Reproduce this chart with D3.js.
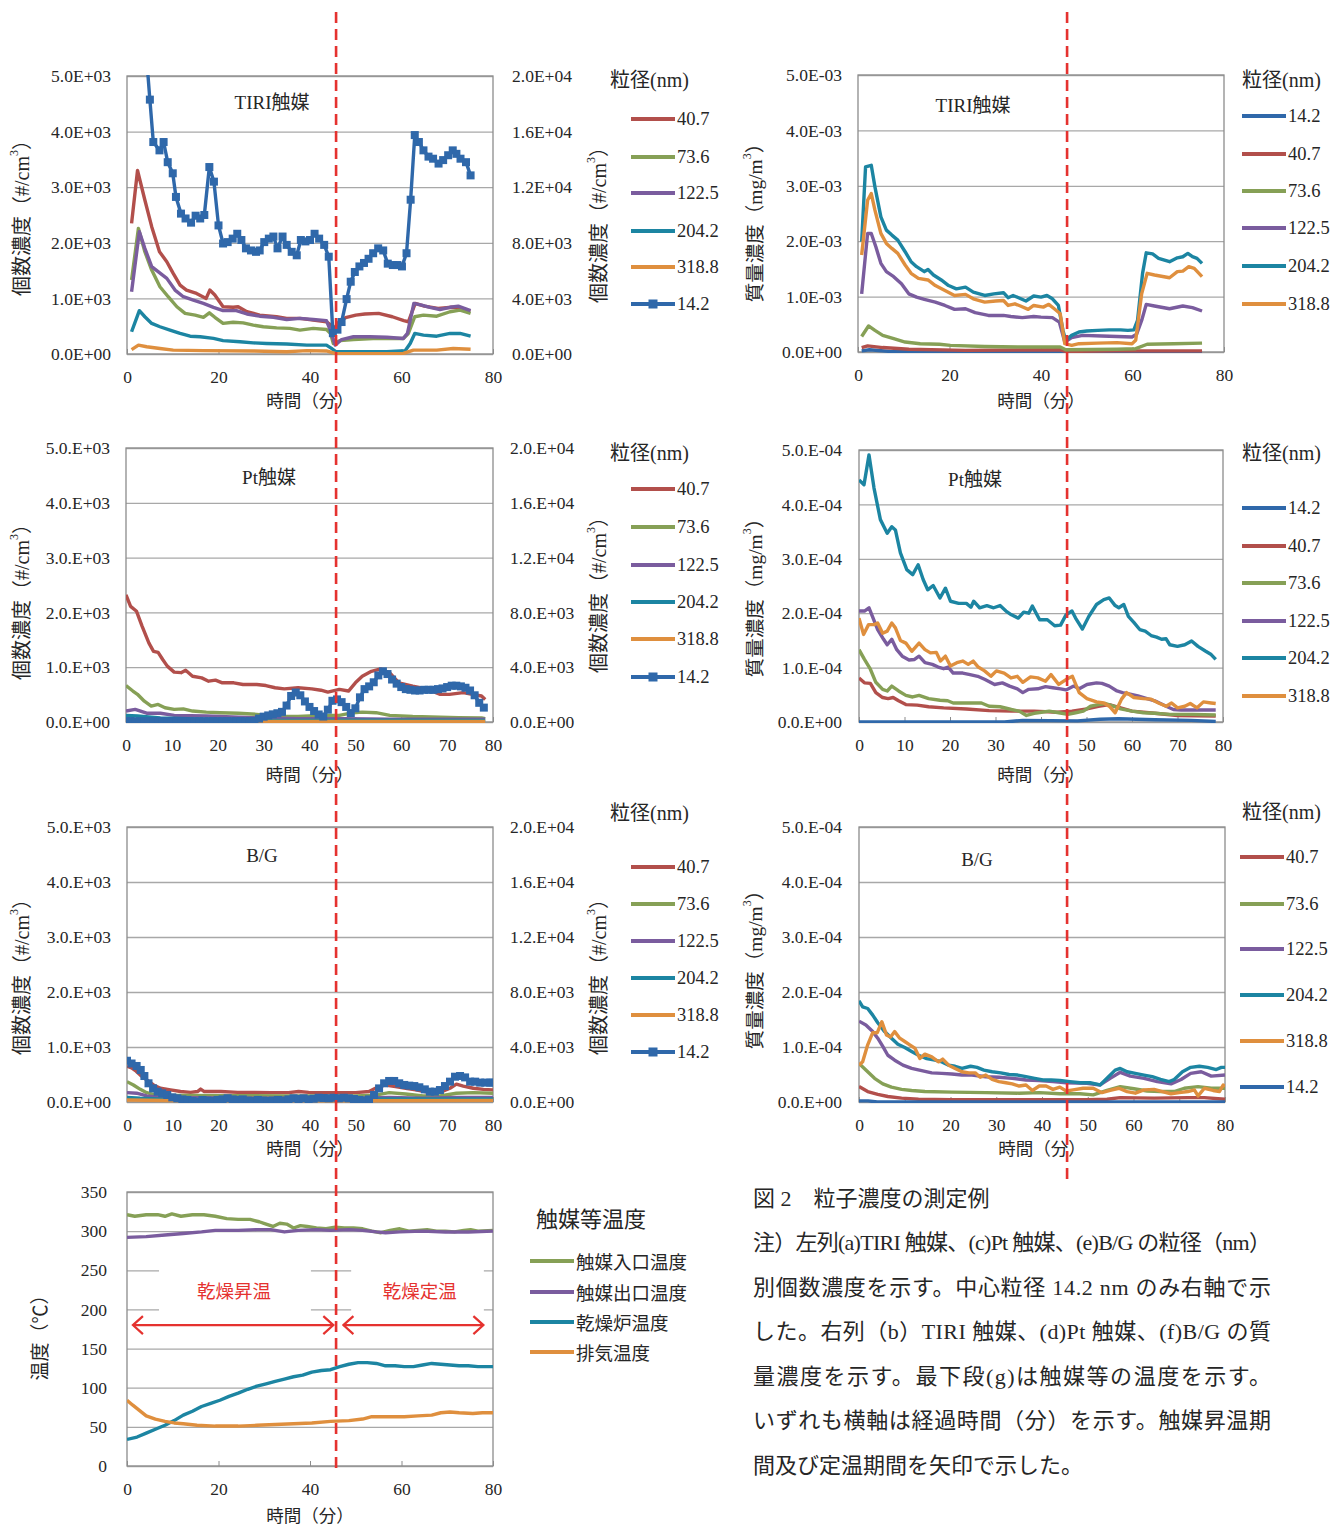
<!DOCTYPE html>
<html lang="ja">
<head>
<meta charset="UTF-8">
<title>図2 粒子濃度の測定例</title>
<script src="https://cdn.jsdelivr.net/npm/d3@7"></script>
<style>
    body { margin: 0; background: #fff; }
</style>
</head>
<body>
<script>
    // ---------- data ----------
    // (a) TIRI catalyst, number concentration (#/cm3); 14.2 nm on right axis
    var a_40_7 = [[1,2350],[2.3,3300],[3.9,2770],[5.4,2290],[7.1,1840],[8.7,1660],[10.1,1450],[11.6,1240],[13,1150],[15.2,1090],[17.3,1000],[18.1,1150],[19.2,1060],[21,850],[23.2,840],[24.3,850],[26.2,760],[29,700],[32.7,670],[34.9,640],[37.8,640],[40.7,610],[43.6,580],[44.6,520],[45.2,450],[46.5,600],[48,660],[50,700],[52,720],[55,730],[58,670],[60.5,600],[61.5,580],[63,910],[65,860],[68,820],[71,840],[73,820],[75,760]];
    var a_73_6 = [[1,1330],[2.5,2260],[3.9,1840],[5.4,1510],[7.2,1210],[9,1030],[10.9,850],[12.7,730],[14.9,700],[16.7,660],[18,740],[19.2,660],[21,550],[23.2,570],[25.4,560],[27.6,520],[29.8,490],[32.7,470],[35.6,460],[37.8,430],[40.7,460],[43.6,440],[44.5,370],[45.1,190],[46.6,240],[49.5,260],[53.8,280],[56.8,280],[60.4,280],[61.5,370],[62.9,670],[64.8,700],[67.7,680],[70.6,760],[72.8,790],[75.1,730]];
    var a_122_5 = [[1,1120],[2.7,2200],[3.9,1900],[5.4,1570],[6.8,1480],[8.7,1360],[10.5,1150],[12.3,1030],[14.5,970],[16.7,910],[18.9,840],[21,780],[23.9,780],[26.2,720],[29,680],[32,660],[34.9,620],[37.8,640],[40.7,620],[43.6,600],[44.7,370],[45.5,160],[46.9,260],[49.5,310],[53.1,310],[56.8,300],[60.4,280],[61.3,370],[62.7,910],[64.4,880],[66.2,840],[68.4,800],[70.6,840],[72.4,860],[75.1,780]];
    var a_204_2 = [[1,400],[2.7,780],[3.9,670],[5.4,550],[7.2,490],[9.4,430],[11.6,370],[13.8,320],[16,310],[18.9,280],[21,240],[24.7,220],[27.6,200],[30.5,190],[34.9,180],[39.3,160],[43.6,160],[44.7,100],[45.7,40],[49.5,40],[56.8,40],[60.8,60],[61.9,190],[62.9,370],[64.8,340],[67.7,320],[70.6,370],[72.8,370],[75.1,320]];
    var a_318_8 = [[1,80],[2.5,160],[4.3,130],[7.2,100],[10.1,70],[16.7,60],[27.6,55],[34.9,40],[39.3,60],[43.6,55],[45.7,5],[49.5,5],[60.4,10],[62.6,70],[67.7,70],[71.3,100],[75.1,85]];
    var a_14_2 = [[4,22500],[5,18300],[5.75,15250],[7.1,14650],[8,15250],[8.9,13800],[10,13000],[10.7,11300],[11.8,10100],[12.8,9750],[14,9450],[15,9950],[16,9750],[16.9,10000],[18,13450],[19,12400],[20,9250],[21,7950],[22,8050],[23.1,8300],[24.1,8650],[25,8200],[26,7600],[27.1,7450],[28.2,7350],[29,7450],[30,8050],[31,8300],[32,8450],[32.9,7600],[34,8450],[34.9,7850],[36,7350],[37.1,7100],[38,8200],[39,8100],[40,8200],[41,8650],[42,8300],[43.1,7850],[44.1,7000],[45,1500],[46,1750],[46.9,2300],[48,3950],[48.9,5200],[49.8,5900],[50.8,6300],[51.8,6550],[52.8,6850],[53.8,7250],[54.9,7600],[56,7450],[57,6500],[58.1,6400],[59.1,6400],[60.1,6300],[61.1,7250],[62,11100],[62.9,15750],[63.8,15250],[64.8,14650],[65.9,14200],[66.9,14050],[68.1,13700],[69.1,13950],[70.2,14300],[71.2,14650],[72,14400],[72.9,14050],[74.1,13800],[75.1,12850]];

    // (b) TIRI catalyst, mass concentration (mg/m3)
    var b_14_2 = [[0.8,2e-5],[2.5,4e-5],[7,1e-5],[19,0],[75.2,0]];
    var b_40_7 = [[0.8,8e-5],[2.1,1.1e-4],[5.4,8e-5],[11.1,5e-5],[23.5,3e-5],[44.2,4e-5],[45.4,1e-5],[56.6,2e-5],[75.2,2e-5]];
    var b_73_6 = [[0.8,2.8e-4],[2.3,4.7e-4],[3.7,3.9e-4],[5.4,3.0e-4],[7.8,2.4e-4],[10.3,1.8e-4],[13.6,1.5e-4],[17.8,1.4e-4],[20.2,1.2e-4],[27.7,1.0e-4],[35.9,9e-5],[44.2,9e-5],[45.4,4e-5],[56.6,5e-5],[60.7,6e-5],[63.2,1.4e-4],[69,1.5e-4],[75.2,1.6e-4]];
    var b_122_5 = [[0.8,1.05e-3],[2.1,2.14e-3],[2.9,2.14e-3],[3.9,1.9e-3],[5,1.6e-3],[6.2,1.45e-3],[7.8,1.36e-3],[9.5,1.23e-3],[11.1,1.05e-3],[12.8,0.99e-3],[14.5,0.95e-3],[16.9,0.9e-3],[19,0.84e-3],[21.1,0.77e-3],[23.5,0.78e-3],[25.6,0.71e-3],[28.5,0.66e-3],[31.8,0.66e-3],[33.4,0.64e-3],[35.9,0.62e-3],[38.4,0.64e-3],[40,0.63e-3],[42.5,0.62e-3],[44,0.54e-3],[45.2,0.18e-3],[46.7,0.26e-3],[49.1,0.3e-3],[53.3,0.29e-3],[56.6,0.28e-3],[59.9,0.27e-3],[60.9,0.32e-3],[62,0.57e-3],[63,0.86e-3],[64.8,0.83e-3],[68.1,0.78e-3],[71,0.83e-3],[73.1,0.8e-3],[75.2,0.74e-3]];
    var b_204_2 = [[0.8,1.99e-3],[1.65,3.34e-3],[2.9,3.37e-3],[3.7,2.98e-3],[5,2.44e-3],[6.2,2.2e-3],[7.4,2.11e-3],[8.7,2.02e-3],[10.3,1.81e-3],[11.6,1.63e-3],[12.8,1.54e-3],[14.5,1.45e-3],[15.3,1.49e-3],[16.5,1.39e-3],[18.2,1.3e-3],[19.8,1.2e-3],[21.5,1.14e-3],[23.5,1.17e-3],[25.2,1.08e-3],[27.7,1.02e-3],[29.7,1.05e-3],[31.8,1.07e-3],[32.8,0.98e-3],[33.9,1.02e-3],[35.1,0.98e-3],[36.7,0.92e-3],[38.4,1.01e-3],[40,0.99e-3],[41.3,1.02e-3],[42.5,0.96e-3],[43.8,0.84e-3],[44.8,0.39e-3],[45.4,0.21e-3],[46.7,0.3e-3],[48.3,0.36e-3],[50,0.38e-3],[52.4,0.39e-3],[54.9,0.4e-3],[57.4,0.4e-3],[59,0.39e-3],[60.3,0.4e-3],[61.1,0.57e-3],[62.2,1.42e-3],[63,1.79e-3],[64.4,1.77e-3],[65.7,1.69e-3],[68.1,1.63e-3],[69.8,1.7e-3],[71,1.72e-3],[72.1,1.78e-3],[73.1,1.72e-3],[74.1,1.69e-3],[75.2,1.6e-3]];
    var b_318_8 = [[0.8,1.75e-3],[2.1,2.74e-3],[2.9,2.86e-3],[3.7,2.56e-3],[5,2.14e-3],[6.2,1.96e-3],[7.4,1.87e-3],[8.7,1.78e-3],[10.3,1.57e-3],[11.6,1.42e-3],[13.2,1.33e-3],[15.3,1.3e-3],[16.9,1.2e-3],[19,1.11e-3],[21.1,1.02e-3],[23.5,1.04e-3],[25.2,0.96e-3],[27.7,0.9e-3],[30.1,0.92e-3],[31.8,0.93e-3],[32.8,0.84e-3],[34.3,0.87e-3],[35.5,0.83e-3],[37.2,0.77e-3],[38.4,0.84e-3],[40.5,0.81e-3],[41.7,0.86e-3],[42.9,0.78e-3],[44.2,0.69e-3],[45.2,0.15e-3],[46.7,0.12e-3],[48.3,0.15e-3],[52.4,0.16e-3],[56.6,0.17e-3],[59.9,0.15e-3],[60.7,0.21e-3],[62,1.05e-3],[63.2,1.42e-3],[64.8,1.39e-3],[68.1,1.34e-3],[69.8,1.45e-3],[71,1.46e-3],[72.3,1.54e-3],[73.5,1.51e-3],[75.2,1.36e-3]];

    // (c) Pt catalyst, number concentration
    var c_40_7 = [[0,2320],[1,2110],[2.3,2020],[3.5,1750],[5,1440],[6,1290],[7,1270],[8,1140],[9,1020],[10.5,910],[12,900],[13,945],[14.5,835],[16.5,805],[18,745],[19.5,765],[21,715],[23.5,715],[25.5,685],[28.5,685],[30.5,665],[32.5,625],[34.5,605],[37.5,625],[40.5,605],[42.5,580],[44,545],[46.5,595],[48.5,565],[50,715],[51.5,835],[53.5,925],[55.5,970],[57.5,895],[59.5,715],[62.5,655],[65.5,605],[68.5,505],[70.5,505],[73.5,535],[75.5,505],[77.5,475],[78.3,410]];
    var c_73_6 = [[0,665],[1.5,565],[2.5,505],[4,380],[5.5,290],[7,320],[8.5,260],[10.5,230],[12.5,240],[14.5,200],[17.5,180],[20.5,170],[24.5,160],[28.5,140],[32.5,100],[37.5,100],[42.5,120],[46.5,120],[49.5,170],[51.5,180],[54.5,170],[57.5,120],[62.5,100],[72.5,80],[77.5,75],[78.3,60]];
    var c_122_5 = [[0,200],[2,230],[4.5,160],[7.5,160],[10.5,120],[17.5,110],[27.5,80],[37.5,60],[47.5,60],[57.5,50],[78.3,50]];
    var c_204_2 = [[0,120],[2.5,110],[7.5,75],[17.5,50],[32.5,30],[52.5,35],[78.3,30]];
    var c_318_8 = [[0,25],[12.5,12],[32.5,12],[78.3,12]];
    var c_14_2 = [[0,60],[1,70],[2,50],[3,60],[4,50],[5,60],[6,55],[7,50],[8,60],[9,50],[10,55],[11,50],[12,60],[13,55],[14,50],[15,55],[16,60],[17,50],[18,55],[19,60],[20,50],[21,55],[22,60],[23,50],[24,55],[25,60],[26,50],[27,60],[28,80],[29,250],[30,390],[31,480],[32,560],[33,640],[34,740],[35,1200],[36,1900],[37,2150],[38,1950],[39,1500],[40,1100],[41,800],[42,550],[43,400],[44,900],[45,1550],[46,1650],[47,1450],[48,1100],[49,650],[50,1000],[51,1800],[52,2400],[53,2600],[54,2900],[55,3400],[56,3700],[57,3500],[58,3100],[59,2800],[60,2550],[61,2400],[62,2350],[63,2300],[64,2300],[65,2350],[66,2350],[67,2350],[68,2400],[69,2450],[70,2550],[71,2650],[72,2650],[73,2600],[74,2500],[75,2300],[76,1950],[77,1400],[78,1050]];

    // (d) Pt catalyst, mass concentration
    var d_14_2 = [[0,0],[32,0],[36,3e-6],[48,2e-6],[53,5e-6],[57,6e-6],[65,4e-6],[73,3e-6],[78.4,1e-6]];
    var d_40_7 = [[0,8.1e-5],[1.2,7.2e-5],[2.5,7.1e-5],[3.7,5.4e-5],[5.2,4.5e-5],[6.4,4.3e-5],[7.5,4.5e-5],[8.7,3.9e-5],[10.3,3.2e-5],[12.8,3.1e-5],[15.3,2.8e-5],[18.6,2.6e-5],[23.6,2.4e-5],[28.6,2.1e-5],[33.5,2.0e-5],[38.5,2.0e-5],[43.5,1.8e-5],[46.8,2.0e-5],[50.1,2.4e-5],[52.6,2.9e-5],[55,3.2e-5],[57.5,2.6e-5],[60,2.0e-5],[65,1.6e-5],[70,1.2e-5],[78.4,1.1e-5]];
    var d_73_6 = [[0,1.33e-4],[1.2,1.15e-4],[2.5,9.7e-5],[3.7,7.3e-5],[5.2,6.0e-5],[6.2,5.7e-5],[7.2,6.6e-5],[8.7,5.7e-5],[10.3,4.9e-5],[11.8,4.6e-5],[13.2,4.9e-5],[15.3,4.3e-5],[17.8,4.0e-5],[19.5,3.9e-5],[20.7,3.5e-5],[26.9,3.5e-5],[28.6,2.9e-5],[31,2.8e-5],[33.5,2.3e-5],[35.2,2.0e-5],[36.8,1.2e-5],[38.5,1.6e-5],[40.1,1.8e-5],[41.8,2.0e-5],[43.9,1.7e-5],[45.9,1.4e-5],[47.6,1.7e-5],[49.3,2.0e-5],[50.9,2.9e-5],[52.6,3.2e-5],[54.2,3.4e-5],[55.9,2.9e-5],[57.5,2.4e-5],[60,2.0e-5],[62.5,1.7e-5],[65,1.6e-5],[68.3,1.4e-5],[73.3,1.4e-5],[78.4,1.3e-5]];
    var d_122_5 = [[0,2.04e-4],[1.2,2.04e-4],[2.2,2.1e-4],[3.1,1.91e-4],[4.1,1.7e-4],[5.4,1.52e-4],[6.2,1.42e-4],[7.2,1.52e-4],[8.3,1.33e-4],[9.5,1.21e-4],[11,1.14e-4],[12.2,1.15e-4],[13.2,1.21e-4],[14.5,1.09e-4],[16.1,1.06e-4],[17.4,1.01e-4],[18.6,9.8e-5],[19.6,1.01e-4],[20.7,9.0e-5],[22.8,9.0e-5],[24.4,8.7e-5],[26.1,8.4e-5],[27.7,7.8e-5],[29.8,6.9e-5],[31.5,7.2e-5],[33.1,6.6e-5],[34.8,6.1e-5],[36,5.4e-5],[37.3,6.0e-5],[39.3,6.1e-5],[41,6.5e-5],[42.6,6.3e-5],[44.3,6.1e-5],[45.5,5.9e-5],[47.2,6.6e-5],[48.4,6.1e-5],[50.1,6.9e-5],[52.2,7.2e-5],[53.4,7.1e-5],[55,6.6e-5],[56.7,5.7e-5],[57.9,5.4e-5],[59.6,5.1e-5],[61.3,4.8e-5],[63.3,4.3e-5],[65,3.9e-5],[67.5,2.9e-5],[69.1,2.3e-5],[70.8,2.2e-5],[78.4,2.2e-5]];
    var d_204_2 = [[0,4.45e-4],[1.1,4.36e-4],[2.2,4.91e-4],[3.3,4.3e-4],[4.7,3.72e-4],[6.2,3.47e-4],[7.2,3.59e-4],[8,3.53e-4],[9.1,3.11e-4],[10.5,2.8e-4],[11.8,2.71e-4],[13,2.89e-4],[14.1,2.62e-4],[15.1,2.43e-4],[16.3,2.51e-4],[17.8,2.28e-4],[19,2.46e-4],[20.1,2.22e-4],[21.9,2.18e-4],[23.6,2.18e-4],[24.6,2.11e-4],[25.2,2.22e-4],[26.5,2.1e-4],[28.1,2.14e-4],[29.6,2.1e-4],[31,2.14e-4],[32.3,2.04e-4],[33.5,1.97e-4],[35,1.91e-4],[36.2,2.02e-4],[37.3,2.0e-4],[38.1,2.13e-4],[39.7,1.88e-4],[41.4,1.88e-4],[43,1.77e-4],[44.3,1.78e-4],[45.5,1.97e-4],[46.8,2.04e-4],[47.6,1.91e-4],[49.1,1.71e-4],[50.5,1.94e-4],[52.2,2.16e-4],[53.8,2.25e-4],[55,2.28e-4],[56.3,2.14e-4],[57.1,2.1e-4],[58.2,2.16e-4],[59.2,1.94e-4],[60.4,1.83e-4],[61.7,1.7e-4],[62.9,1.67e-4],[64.2,1.59e-4],[65.4,1.56e-4],[66.5,1.52e-4],[67.5,1.53e-4],[68.3,1.42e-4],[70,1.39e-4],[71.6,1.42e-4],[73.1,1.49e-4],[74.5,1.39e-4],[76.2,1.3e-4],[77.4,1.24e-4],[78.4,1.15e-4]];
    var d_318_8 = [[0,1.91e-4],[1,1.61e-4],[2.1,1.79e-4],[3.3,1.79e-4],[4.1,1.82e-4],[5.2,1.63e-4],[6.2,1.67e-4],[7.2,1.82e-4],[8,1.73e-4],[9.1,1.5e-4],[10.3,1.45e-4],[11.6,1.3e-4],[13.2,1.45e-4],[14.5,1.33e-4],[15.7,1.27e-4],[17,1.28e-4],[17.9,1.12e-4],[19,1.21e-4],[20.1,1.03e-4],[21.5,1.09e-4],[22.8,1.12e-4],[24,1.06e-4],[25.1,1.12e-4],[26.2,1.01e-4],[27.6,9.4e-5],[29,8.4e-5],[30.2,9.4e-5],[31.9,9.0e-5],[33.4,8.1e-5],[34.8,8.4e-5],[36,7.3e-5],[37.7,8.3e-5],[39.3,8.1e-5],[41,7.5e-5],[42.2,8.7e-5],[43.9,6.9e-5],[45.5,7.8e-5],[46.9,8.4e-5],[48.4,5.4e-5],[50.1,4.3e-5],[52.2,3.7e-5],[53.8,3.5e-5],[55,2.9e-5],[56.3,1.7e-5],[57.7,4.2e-5],[58.8,5.4e-5],[60.4,4.5e-5],[62.5,4.3e-5],[64.2,4.2e-5],[65.8,3.5e-5],[67.5,2.9e-5],[68.7,3.5e-5],[70,2.6e-5],[71.6,2.9e-5],[72.8,3.4e-5],[74.3,2.6e-5],[75.7,3.7e-5],[77.4,3.5e-5],[78.4,3.4e-5]];

    // (e) B/G, number concentration
    var e_40_7 = [[0,650],[1,620],[2,560],[2.9,490],[4.3,400],[5.8,310],[7.3,250],[9.5,220],[11.7,190],[13.9,175],[15.4,190],[16.1,235],[16.9,190],[20.5,190],[24.2,175],[27.9,175],[31.5,170],[35.3,170],[37.5,190],[39.7,175],[42.6,170],[46.3,170],[50,170],[52.9,190],[54.3,250],[56.5,310],[58.7,280],[60.9,250],[63.1,220],[66.2,170],[68.4,175],[70.6,250],[72,325],[73.5,290],[75.7,250],[77.9,230],[80,220]];
    var e_73_6 = [[0,370],[1.4,310],[2.9,230],[4.3,170],[5.8,140],[9.5,125],[13.2,120],[20.5,115],[27.9,115],[35.3,110],[50,110],[54.3,125],[57.3,170],[60.9,145],[64.7,110],[68.4,110],[72,160],[75.7,170],[80,160]];
    var e_122_5 = [[0,170],[2.1,160],[4.3,110],[7.3,85],[13.2,80],[27.9,67],[50,67],[57.3,85],[64.7,67],[72,85],[80,85]];
    var e_204_2 = [[0,85],[2.9,67],[9.5,48],[35.3,42],[57.3,55],[80,55]];
    var e_318_8 = [[0,36],[13.2,24],[50,24],[80,30]];
    var e_14_2 = [[0,3000],[1,2800],[2.1,2620],[3,2330],[3.8,1890],[4.7,1360],[5.7,990],[6.7,750],[7.7,630],[8.8,510],[9.9,340],[11,270],[12.1,190],[13.2,150],[14.3,70],[15.4,25],[16.5,150],[17.6,100],[18.7,70],[19.8,150],[20.9,190],[22,270],[23.1,190],[24.2,150],[25.3,190],[26.4,100],[27.5,70],[28.6,150],[29.7,100],[30.8,70],[31.9,100],[33,150],[34.2,100],[35.3,190],[36.4,270],[37.5,220],[38.6,270],[39.7,190],[40.8,240],[41.9,310],[43,290],[44.1,270],[45.2,310],[46.3,270],[47.4,310],[48.5,270],[49.6,220],[50.7,150],[51.8,100],[52.9,190],[54,510],[55.1,990],[56.2,1360],[57.3,1530],[58.4,1530],[59.5,1360],[60.6,1240],[61.7,1190],[62.8,1160],[63.9,1070],[65.1,920],[66.2,750],[67.3,750],[68.4,870],[69.5,1160],[70.6,1480],[71.7,1840],[72.8,1890],[73.9,1790],[75,1480],[76.1,1480],[77.2,1410],[78.3,1410],[79.4,1410],[80,1410]];

    // (f) B/G, mass concentration
    var f_40_7 = [[0,2.8e-5],[1.9,1.9e-5],[4.1,1.4e-5],[6.3,1.0e-5],[9.3,7e-6],[13,5e-6],[20,4e-6],[50,4e-6],[54.2,5e-6],[57.1,8e-6],[64.5,7e-6],[71.9,8e-6],[75.5,8e-6],[80,5e-6]];
    var f_73_6 = [[0,7.0e-5],[1.5,5.8e-5],[3.4,4.3e-5],[5.2,3.3e-5],[7.1,2.7e-5],[9.3,2.3e-5],[11.5,2.1e-5],[14.4,1.9e-5],[20.3,1.8e-5],[27.7,1.7e-5],[35,1.6e-5],[39.4,1.7e-5],[43.9,1.5e-5],[48.3,1.5e-5],[51.2,1.3e-5],[54.2,2.1e-5],[57.1,2.8e-5],[60.1,2.4e-5],[63,2.0e-5],[65.9,1.9e-5],[68.9,1.9e-5],[71.1,2.5e-5],[74.1,2.8e-5],[77,2.5e-5],[80,2.5e-5]];
    var f_122_5 = [[0,1.47e-4],[1.5,1.4e-4],[3,1.28e-4],[4.1,1.16e-4],[5.2,1.01e-4],[6.3,8.5e-5],[7.8,7.6e-5],[9.6,6.7e-5],[11.5,6.1e-5],[13.7,5.7e-5],[15.9,5.3e-5],[18.1,5.2e-5],[20.3,5.1e-5],[22.5,4.9e-5],[24.7,4.9e-5],[27.7,4.6e-5],[30.6,4.5e-5],[33.5,4.3e-5],[36.5,4.0e-5],[39.4,3.9e-5],[42.4,3.7e-5],[45.3,3.5e-5],[49.8,3.4e-5],[52.7,3.1e-5],[54.9,4.3e-5],[57.1,5.4e-5],[59.3,4.7e-5],[62.3,4.3e-5],[65.2,3.7e-5],[68.2,3.3e-5],[70.4,4.1e-5],[72.5,5.2e-5],[74.8,5.5e-5],[77,4.7e-5],[80,4.9e-5]];
    var f_204_2 = [[0,1.84e-4],[0.8,1.73e-4],[1.9,1.7e-4],[3,1.58e-4],[4.1,1.44e-4],[5.6,1.28e-4],[7.1,1.16e-4],[8.5,1.05e-4],[10,9.9e-5],[11.5,9.2e-5],[13,8.5e-5],[14.8,7.9e-5],[16.6,7.6e-5],[18.1,7.3e-5],[19.6,6.7e-5],[21,6.5e-5],[22.5,6.1e-5],[24.4,6.5e-5],[25.8,6.3e-5],[27.3,5.8e-5],[29.1,5.5e-5],[31,5.3e-5],[32.8,5.0e-5],[34.7,4.9e-5],[36.5,4.6e-5],[38.4,4.3e-5],[40.2,4.0e-5],[42,4.0e-5],[43.9,3.9e-5],[46.1,3.7e-5],[48.3,3.5e-5],[50.5,3.5e-5],[52.7,3.1e-5],[54.2,4.3e-5],[56,5.8e-5],[57.1,6.1e-5],[58.6,5.5e-5],[60.4,5.2e-5],[62.3,4.9e-5],[64.1,4.6e-5],[65.9,4.1e-5],[67.8,3.7e-5],[68.9,4.1e-5],[70.7,5.5e-5],[72.5,6.3e-5],[74.4,6.5e-5],[76.2,6.3e-5],[78.1,5.9e-5],[79.2,6.3e-5],[80,6.3e-5]];
    var f_318_8 = [[0,6.7e-5],[0.8,7.3e-5],[1.9,1.04e-4],[3,1.26e-4],[4,1.26e-4],[5,1.46e-4],[6,1.22e-4],[6.9,1.18e-4],[7.8,1.28e-4],[8.9,1.16e-4],[10,1.1e-4],[11.1,1.04e-4],[12.2,9.8e-5],[13.3,7.9e-5],[14.4,8.7e-5],[15.9,8.2e-5],[17.4,7.3e-5],[18.3,7.8e-5],[19.6,6.7e-5],[21,6.1e-5],[22.5,5.5e-5],[24,5.3e-5],[25.4,5.3e-5],[26.5,4.5e-5],[27.7,4.9e-5],[29.1,4.1e-5],[30.6,3.7e-5],[32.1,3.5e-5],[33.5,3.3e-5],[35,2.9e-5],[36.5,3.1e-5],[37.9,2.1e-5],[39.4,2.9e-5],[40.9,2.9e-5],[42.4,2.3e-5],[43.9,2.7e-5],[45.3,2.0e-5],[46.8,2.2e-5],[49,2.5e-5],[51.2,2.5e-5],[53.1,1.7e-5],[54.9,2.1e-5],[56.8,2.5e-5],[58.6,1.9e-5],[60.4,1.6e-5],[62.3,2.2e-5],[64.5,2.3e-5],[66.3,1.9e-5],[68.2,1.5e-5],[70,1.7e-5],[71.9,1.9e-5],[73.3,2.2e-5],[74.1,1.1e-5],[75.5,2.5e-5],[77.4,2.1e-5],[78.8,1.9e-5],[79.6,3.1e-5],[80,2.8e-5]];
    var f_14_2 = [[0,2e-6],[2,2e-6],[4,0],[80,0]];

    // (g) temperatures (deg C)
    var g_inlet = [[0,321],[1.7,319],[4.2,321],[6.7,321],[8.3,319],[9.8,322],[11.8,319],[14.3,321],[16.8,321],[19.3,319],[21.8,316],[24.3,315],[26.9,315],[28.9,312],[30.4,309],[31.9,306],[33.4,310],[34.9,309],[36.4,304],[37.9,307],[39.4,306],[41.4,304],[43.5,303],[45.5,305],[47.5,304],[49.5,304],[51.5,303],[53.5,300],[55.5,298],[57.5,301],[59.6,303],[61.6,300],[63.6,301],[65.6,302],[67.6,300],[69.6,300],[71.6,299],[73.6,301],[75.1,302],[76.7,300],[80,301]];
    var g_outlet = [[0,292],[4.2,293],[8.3,295],[12.3,297],[16.3,299],[19.3,301],[24.3,301],[28.4,302],[31.4,302],[34.4,299],[37.4,301],[41.4,302],[44.5,301],[48.5,302],[51.5,301],[54.5,299],[56.5,298],[59.6,299],[64.6,300],[69.6,299],[74.6,299],[80,300]];
    var g_oven = [[0,34],[2.2,37],[4.2,42],[6.2,47],[8.3,52],[10.3,58],[12.3,65],[14.3,70],[16.3,76],[18.3,80],[20.3,84],[22.3,89],[24.3,93],[26.4,98],[28.4,102],[30.4,105],[32.4,108],[34.4,111],[36.4,114],[38.4,116],[40.4,120],[42.5,122],[44.5,123],[46.5,127],[48.5,130],[50.5,132],[52.5,132],[54.5,131],[56.5,128],[58.6,128],[60.6,127],[62.6,127],[64.6,129],[66.6,131],[68.6,130],[70.6,129],[72.6,128],[74.6,128],[76.7,127],[80,127]];
    var g_exhaust = [[0,84],[1.2,78],[2.7,71],[4.2,64],[6.2,60],[8.3,57],[10.3,55],[12.3,54],[15.3,52],[19.3,51],[24.3,51],[28.4,52],[32.4,53],[36.4,54],[40.4,55],[44.5,57],[48.5,58],[51.5,60],[53.5,63],[56.5,63],[60.6,63],[63.6,64],[66.6,65],[68.6,68],[70.6,69],[72.6,68],[75.6,67],[77.7,68],[80,68]];

    // tick values and labels
    var countTicks = [0, 1000, 2000, 3000, 4000, 5000];
    var countTicksR = [0, 4000, 8000, 12000, 16000, 20000];
    var countLabelsA = ["0.0E+00", "1.0E+03", "2.0E+03", "3.0E+03", "4.0E+03", "5.0E+03"];
    var countLabelsRA = ["0.0E+00", "4.0E+03", "8.0E+03", "1.2E+04", "1.6E+04", "2.0E+04"];
    var countLabelsCE = ["0.0.E+00", "1.0.E+03", "2.0.E+03", "3.0.E+03", "4.0.E+03", "5.0.E+03"];
    var countLabelsRCE = ["0.0.E+00", "4.0.E+03", "8.0.E+03", "1.2.E+04", "1.6.E+04", "2.0.E+04"];
    var massTicksB = [0, 1e-3, 2e-3, 3e-3, 4e-3, 5e-3];
    var massLabelsB = ["0.0E+00", "1.0E-03", "2.0E-03", "3.0E-03", "4.0E-03", "5.0E-03"];
    var massTicksDF = [0, 1e-4, 2e-4, 3e-4, 4e-4, 5e-4];
    var massLabelsDF = ["0.0.E+00", "1.0.E-04", "2.0.E-04", "3.0.E-04", "4.0.E-04", "5.0.E-04"];
    var tempTicks = [0, 50, 100, 150, 200, 250, 300, 350];
    var timeTicks20 = [0, 20, 40, 60, 80];
    var timeTicks10 = [0, 10, 20, 30, 40, 50, 60, 70, 80];
    var boundaryTime = 45.7;

    var sizes = ["14.2", "40.7", "73.6", "122.5", "204.2", "318.8"];
    var tempNames = ["触媒入口温度", "触媒出口温度", "乾燥炉温度", "排気温度"];
    var caption = [
        "図 2　粒子濃度の測定例",
        "注）左列(a)TIRI 触媒、(c)Pt 触媒、(e)B/G の粒径（nm）",
        "別個数濃度を示す。中心粒径 14.2 nm のみ右軸で示",
        "した。右列（b）TIRI 触媒、(d)Pt 触媒、(f)B/G の質",
        "量濃度を示す。最下段(g)は触媒等の温度を示す。",
        "いずれも横軸は経過時間（分）を示す。触媒昇温期",
        "間及び定温期間を矢印で示した。"
    ];

    // ---------- drawing ----------
    var FONT = '"Liberation Serif", "Noto Sans CJK JP", serif';
    var JP = '"Noto Sans CJK JP", sans-serif';
    var INK = "#262626";
    var RED = "#e5322f";

    var color = d3.scaleOrdinal()
        .domain(sizes.concat(tempNames))
        .range(["#2f68aa", "#b24f4b", "#86a056", "#7a5c9e", "#1c85a2", "#df8f3e",
                "#86a056", "#7a5c9e", "#1c85a2", "#df8f3e"]);

    var svg = d3.select("body").append("svg")
        .attr("width", 1331).attr("height", 1528)
        .style("font-family", FONT);

    function vTitle(x, y, pre, sup, post, size) {
        var t = svg.append("text")
            .attr("transform", "translate(" + x + "," + y + ") rotate(-90)")
            .attr("text-anchor", "middle").attr("dominant-baseline", "central")
            .attr("font-size", size || 20).attr("fill", INK);
        t.append("tspan").text(pre);
        if (sup) {
            t.append("tspan").attr("font-size", 12).attr("dy", -8).text(sup);
            t.append("tspan").attr("dy", 8).text(post);
        }
    }

    function drawPanel(o) {
        var x = d3.scaleLinear().domain([0, 80]).range([o.left, o.right]);
        var y = d3.scaleLinear().domain([0, o.yMax]).range([o.bottom, o.top]);
        var y2 = o.y2Max ? d3.scaleLinear().domain([0, o.y2Max]).range([o.bottom, o.top]) : null;
        var w = o.right - o.left, h = o.bottom - o.top;
        var g = svg.append("g");

        // gridlines
        g.append("g").attr("transform", "translate(" + o.left + ",0)")
            .call(d3.axisLeft(y).tickValues(o.yTicks).tickSize(-w).tickFormat(""))
            .call(function (a) { a.select(".domain").remove() })
            .selectAll("line").attr("stroke", "#a8a8a8").attr("stroke-width", 1.3);

        if (o.masks) {
            o.masks.forEach(function (m) {
                g.append("rect")
                    .attr("x", x(m[0])).attr("y", y(m[3]))
                    .attr("width", x(m[1]) - x(m[0])).attr("height", y(m[2]) - y(m[3]))
                    .attr("fill", "#fff")
            })
        }

        g.append("rect")
            .attr("x", o.left).attr("y", o.top).attr("width", w).attr("height", h)
            .attr("fill", "none").attr("stroke", "#8c8c8c").attr("stroke-width", 1.3);

        // axes
        g.append("g").attr("transform", "translate(0," + o.bottom + ")")
            .call(d3.axisBottom(x).tickValues(o.xTicks).tickSize(-5).tickPadding(17))
            .call(function (a) { a.select(".domain").remove() })
            .attr("font-family", FONT).attr("font-size", 17.5).attr("color", INK)
            .call(function (a) { a.selectAll("line").attr("stroke", "#8c8c8c") });

        g.append("g").attr("transform", "translate(" + o.left + ",0)")
            .call(d3.axisLeft(y).tickValues(o.yTicks).tickSize(0).tickPadding(o.lPad || 16)
                .tickFormat(function (d, i) { return o.yLabels[i] }))
            .call(function (a) { a.select(".domain").remove() })
            .attr("font-family", FONT).attr("font-size", 17.5).attr("color", INK);

        if (y2) {
            g.append("g").attr("transform", "translate(" + o.right + ",0)")
                .call(d3.axisRight(y2).tickValues(o.y2Ticks).tickSize(0).tickPadding(o.rPad)
                    .tickFormat(function (d, i) { return o.y2Labels[i] }))
                .call(function (a) { a.select(".domain").remove() })
                .attr("font-family", FONT).attr("font-size", 17.5).attr("color", INK);
        }

        // series
        svg.append("clipPath").attr("id", "clip-" + o.id).append("rect")
            .attr("x", o.left).attr("y", o.top - 1).attr("width", w).attr("height", h + 2);
        var sg = g.append("g").attr("clip-path", "url(#clip-" + o.id + ")");
        o.series.forEach(function (s) {
            var ys = s.right ? y2 : y;
            var line = d3.line().x(function (d) { return x(d[0]) }).y(function (d) { return ys(d[1]) });
            sg.append("path").datum(s.data)
                .attr("d", line)
                .attr("fill", "none")
                .attr("stroke", color(s.name))
                .attr("stroke-width", 3.4)
                .attr("stroke-linejoin", "round");
            if (s.marker) {
                sg.selectAll(null).data(s.data).join("rect")
                    .attr("x", function (d) { return x(d[0]) - s.marker / 2 })
                    .attr("y", function (d) { return ys(d[1]) - s.marker / 2 })
                    .attr("width", s.marker).attr("height", s.marker)
                    .attr("fill", color(s.name));
            }
        });

        // in-plot label
        if (o.label) {
            g.append("text").attr("x", o.label[0]).attr("y", o.label[1])
                .attr("text-anchor", "middle").attr("dominant-baseline", "central")
                .attr("font-size", 19).attr("fill", INK).text(o.label[2]);
        }

        // x title
        g.append("text").attr("x", (o.left + o.right) / 2).attr("y", o.xTitleY)
            .attr("text-anchor", "middle").attr("dominant-baseline", "central")
            .attr("font-family", JP).attr("font-size", 17.5).attr("fill", INK)
            .text("時間（分）");

        // legend
        var lg = svg.append("g");
        lg.append("text").attr("x", o.legend.titleX).attr("y", o.legend.titleY)
            .attr("dominant-baseline", "central")
            .attr("font-size", o.legend.titleSize || 20).attr("fill", INK)
            .text(o.legend.title);
        o.series.forEach(function (s, i) {
            var ly = o.legend.ys[i], lx = o.legend.x;
            lg.append("line").attr("x1", lx).attr("x2", lx + 44).attr("y1", ly).attr("y2", ly)
                .attr("stroke", color(s.name)).attr("stroke-width", 4);
            if (s.marker) {
                lg.append("rect").attr("x", lx + 22 - 4.5).attr("y", ly - 4.5)
                    .attr("width", 9).attr("height", 9).attr("fill", color(s.name));
            }
            lg.append("text").attr("x", lx + 46).attr("y", ly)
                .attr("dominant-baseline", "central")
                .attr("font-size", o.legend.size || 18.5)
                .attr("font-family", o.legend.font || FONT)
                .attr("fill", INK).text(s.name);
        });

        return {x: x, y: y};
    }

    function countSeries(d40, d73, d122, d204, d318, d14, mk) {
        return [
            {name: "40.7", data: d40}, {name: "73.6", data: d73}, {name: "122.5", data: d122},
            {name: "204.2", data: d204}, {name: "318.8", data: d318},
            {name: "14.2", data: d14, right: true, marker: mk}
        ];
    }

    // (a)
    var pa = drawPanel({
        id: "a", left: 127, right: 493, top: 76, bottom: 354,
        yMax: 5000, yTicks: countTicks, yLabels: countLabelsA,
        y2Max: 20000, y2Ticks: countTicksR, y2Labels: countLabelsRA, rPad: 19,
        xTicks: timeTicks20, xTitleY: 399, label: [272, 102, "TIRI触媒"],
        series: countSeries(a_40_7, a_73_6, a_122_5, a_204_2, a_318_8, a_14_2, 8),
        legend: {title: "粒径(nm)", titleX: 610, titleY: 80, x: 631, ys: [119, 157, 193, 231, 267, 304]}
    });
    vTitle(22, 213, "個数濃度（#/cm", "3", "）");
    vTitle(599, 220, "個数濃度（#/cm", "3", "）");

    // (b)
    var pb = drawPanel({
        id: "b", left: 858, right: 1224, top: 75, bottom: 352,
        yMax: 5e-3, yTicks: massTicksB, yLabels: massLabelsB,
        xTicks: timeTicks20, xTitleY: 399, label: [973, 105, "TIRI触媒"],
        series: [{name: "14.2", data: b_14_2}, {name: "40.7", data: b_40_7}, {name: "73.6", data: b_73_6},
                 {name: "122.5", data: b_122_5}, {name: "204.2", data: b_204_2}, {name: "318.8", data: b_318_8}],
        legend: {title: "粒径(nm)", titleX: 1242, titleY: 80, x: 1242, ys: [116, 154, 191, 228, 266, 304]}
    });
    vTitle(755, 218, "質量濃度（mg/m", "3", "）", 19.5);

    // (c)
    drawPanel({
        id: "c", left: 126, right: 493, top: 448, bottom: 722,
        yMax: 5000, yTicks: countTicks, yLabels: countLabelsCE,
        y2Max: 20000, y2Ticks: countTicksR, y2Labels: countLabelsRCE, rPad: 17,
        xTicks: timeTicks10, xTitleY: 773, label: [269, 477, "Pt触媒"],
        series: countSeries(c_40_7, c_73_6, c_122_5, c_204_2, c_318_8, c_14_2, 8),
        legend: {title: "粒径(nm)", titleX: 610, titleY: 453, x: 631, ys: [489, 527, 565, 602, 639, 677]}
    });
    vTitle(22, 597, "個数濃度（#/cm", "3", "）");
    vTitle(599, 590, "個数濃度（#/cm", "3", "）");

    // (d)
    drawPanel({
        id: "d", left: 859, right: 1223, top: 450, bottom: 722,
        yMax: 5e-4, yTicks: massTicksDF, yLabels: massLabelsDF, lPad: 17,
        xTicks: timeTicks10, xTitleY: 773, label: [975, 479, "Pt触媒"],
        series: [{name: "14.2", data: d_14_2}, {name: "40.7", data: d_40_7}, {name: "73.6", data: d_73_6},
                 {name: "122.5", data: d_122_5}, {name: "204.2", data: d_204_2}, {name: "318.8", data: d_318_8}],
        legend: {title: "粒径(nm)", titleX: 1242, titleY: 453, x: 1242, ys: [508, 546, 583, 621, 658, 696]}
    });
    vTitle(755, 593, "質量濃度（mg/m", "3", "）", 19.5);

    // (e)
    drawPanel({
        id: "e", left: 127, right: 493, top: 827, bottom: 1102,
        yMax: 5000, yTicks: countTicks, yLabels: countLabelsCE,
        y2Max: 20000, y2Ticks: countTicksR, y2Labels: countLabelsRCE, rPad: 17,
        xTicks: timeTicks10, xTitleY: 1147, label: [262, 855, "B/G"],
        series: countSeries(e_40_7, e_73_6, e_122_5, e_204_2, e_318_8, e_14_2, 8),
        legend: {title: "粒径(nm)", titleX: 610, titleY: 813, x: 631, ys: [867, 904, 941, 978, 1015, 1052]}
    });
    vTitle(22, 972, "個数濃度（#/cm", "3", "）");
    vTitle(599, 972, "個数濃度（#/cm", "3", "）");

    // (f)
    drawPanel({
        id: "f", left: 859, right: 1225, top: 827, bottom: 1102,
        yMax: 5e-4, yTicks: massTicksDF, yLabels: massLabelsDF, lPad: 17,
        xTicks: timeTicks10, xTitleY: 1147, label: [977, 859, "B/G"],
        series: [{name: "40.7", data: f_40_7}, {name: "73.6", data: f_73_6}, {name: "122.5", data: f_122_5},
                 {name: "204.2", data: f_204_2}, {name: "318.8", data: f_318_8}, {name: "14.2", data: f_14_2}],
        legend: {title: "粒径(nm)", titleX: 1242, titleY: 812, x: 1240, ys: [857, 904, 949, 995, 1041, 1087]}
    });
    vTitle(755, 965, "質量濃度（mg/m", "3", "）", 19.5);

    // (g)
    var pg = drawPanel({
        id: "g", left: 127, right: 493, top: 1192, bottom: 1466,
        yMax: 350, yTicks: tempTicks, yLabels: tempTicks.map(String), lPad: 20,
        xTicks: timeTicks20, xTitleY: 1514,
        masks: [[7, 40.2, 190, 258], [49, 78, 190, 258]],
        series: [{name: tempNames[0], data: g_inlet}, {name: tempNames[1], data: g_outlet},
                 {name: tempNames[2], data: g_oven}, {name: tempNames[3], data: g_exhaust}],
        legend: {title: "触媒等温度", titleX: 536, titleY: 1219, titleSize: 22, x: 530,
                 ys: [1261, 1292, 1322, 1352], size: 18.5, font: JP}
    });
    svg.append("text")
        .attr("transform", "translate(40,1333) rotate(-90)")
        .attr("text-anchor", "middle").attr("dominant-baseline", "central")
        .attr("font-size", 19).attr("fill", INK).text("温度（℃）");

    // heating / constant period arrows
    var periods = [
        {label: "乾燥昇温", from: 1.3, to: 45.1, at: 23.4},
        {label: "乾燥定温", from: 47.3, to: 77.9, at: 64}
    ];
    var arrowY = pg.y(180);
    periods.forEach(function (p) {
        var x1 = pg.x(p.from), x2 = pg.x(p.to);
        svg.append("line").attr("x1", x1).attr("x2", x2).attr("y1", arrowY).attr("y2", arrowY)
            .attr("stroke", RED).attr("stroke-width", 2.2);
        svg.append("path")
            .attr("d", "M" + (x1 + 10) + "," + (arrowY - 9) + "L" + x1 + "," + arrowY + "L" + (x1 + 10) + "," + (arrowY + 9) +
                "M" + (x2 - 10) + "," + (arrowY - 9) + "L" + x2 + "," + arrowY + "L" + (x2 - 10) + "," + (arrowY + 9))
            .attr("fill", "none").attr("stroke", RED).attr("stroke-width", 2.2);
        svg.append("text").attr("x", pg.x(p.at)).attr("y", pg.y(225))
            .attr("text-anchor", "middle").attr("dominant-baseline", "central")
            .attr("font-family", JP).attr("font-size", 18.5).attr("fill", RED)
            .text(p.label);
    });

    // boundary between heating and constant temperature
    svg.append("line")
        .attr("x1", pa.x(boundaryTime)).attr("x2", pa.x(boundaryTime))
        .attr("y1", 12).attr("y2", 1468)
        .attr("stroke", RED).attr("stroke-width", 2.6).attr("stroke-dasharray", "11,6");
    svg.append("line")
        .attr("x1", pb.x(boundaryTime)).attr("x2", pb.x(boundaryTime))
        .attr("y1", 12).attr("y2", 1184)
        .attr("stroke", RED).attr("stroke-width", 2.6).attr("stroke-dasharray", "11,6");

    // caption
    svg.append("g").selectAll("text").data(caption).join("text")
        .attr("x", 753)
        .attr("y", function (d, i) { return 1198 + i * 44.5 })
        .attr("dominant-baseline", "central")
        .attr("font-size", 22).attr("fill", INK)
        .attr("textLength", function (d, i) { return (i > 0 && i < 6) ? 518 : null })
        .attr("lengthAdjust", "spacing")
        .text(function (d) { return d });
</script>
</body>
</html>
